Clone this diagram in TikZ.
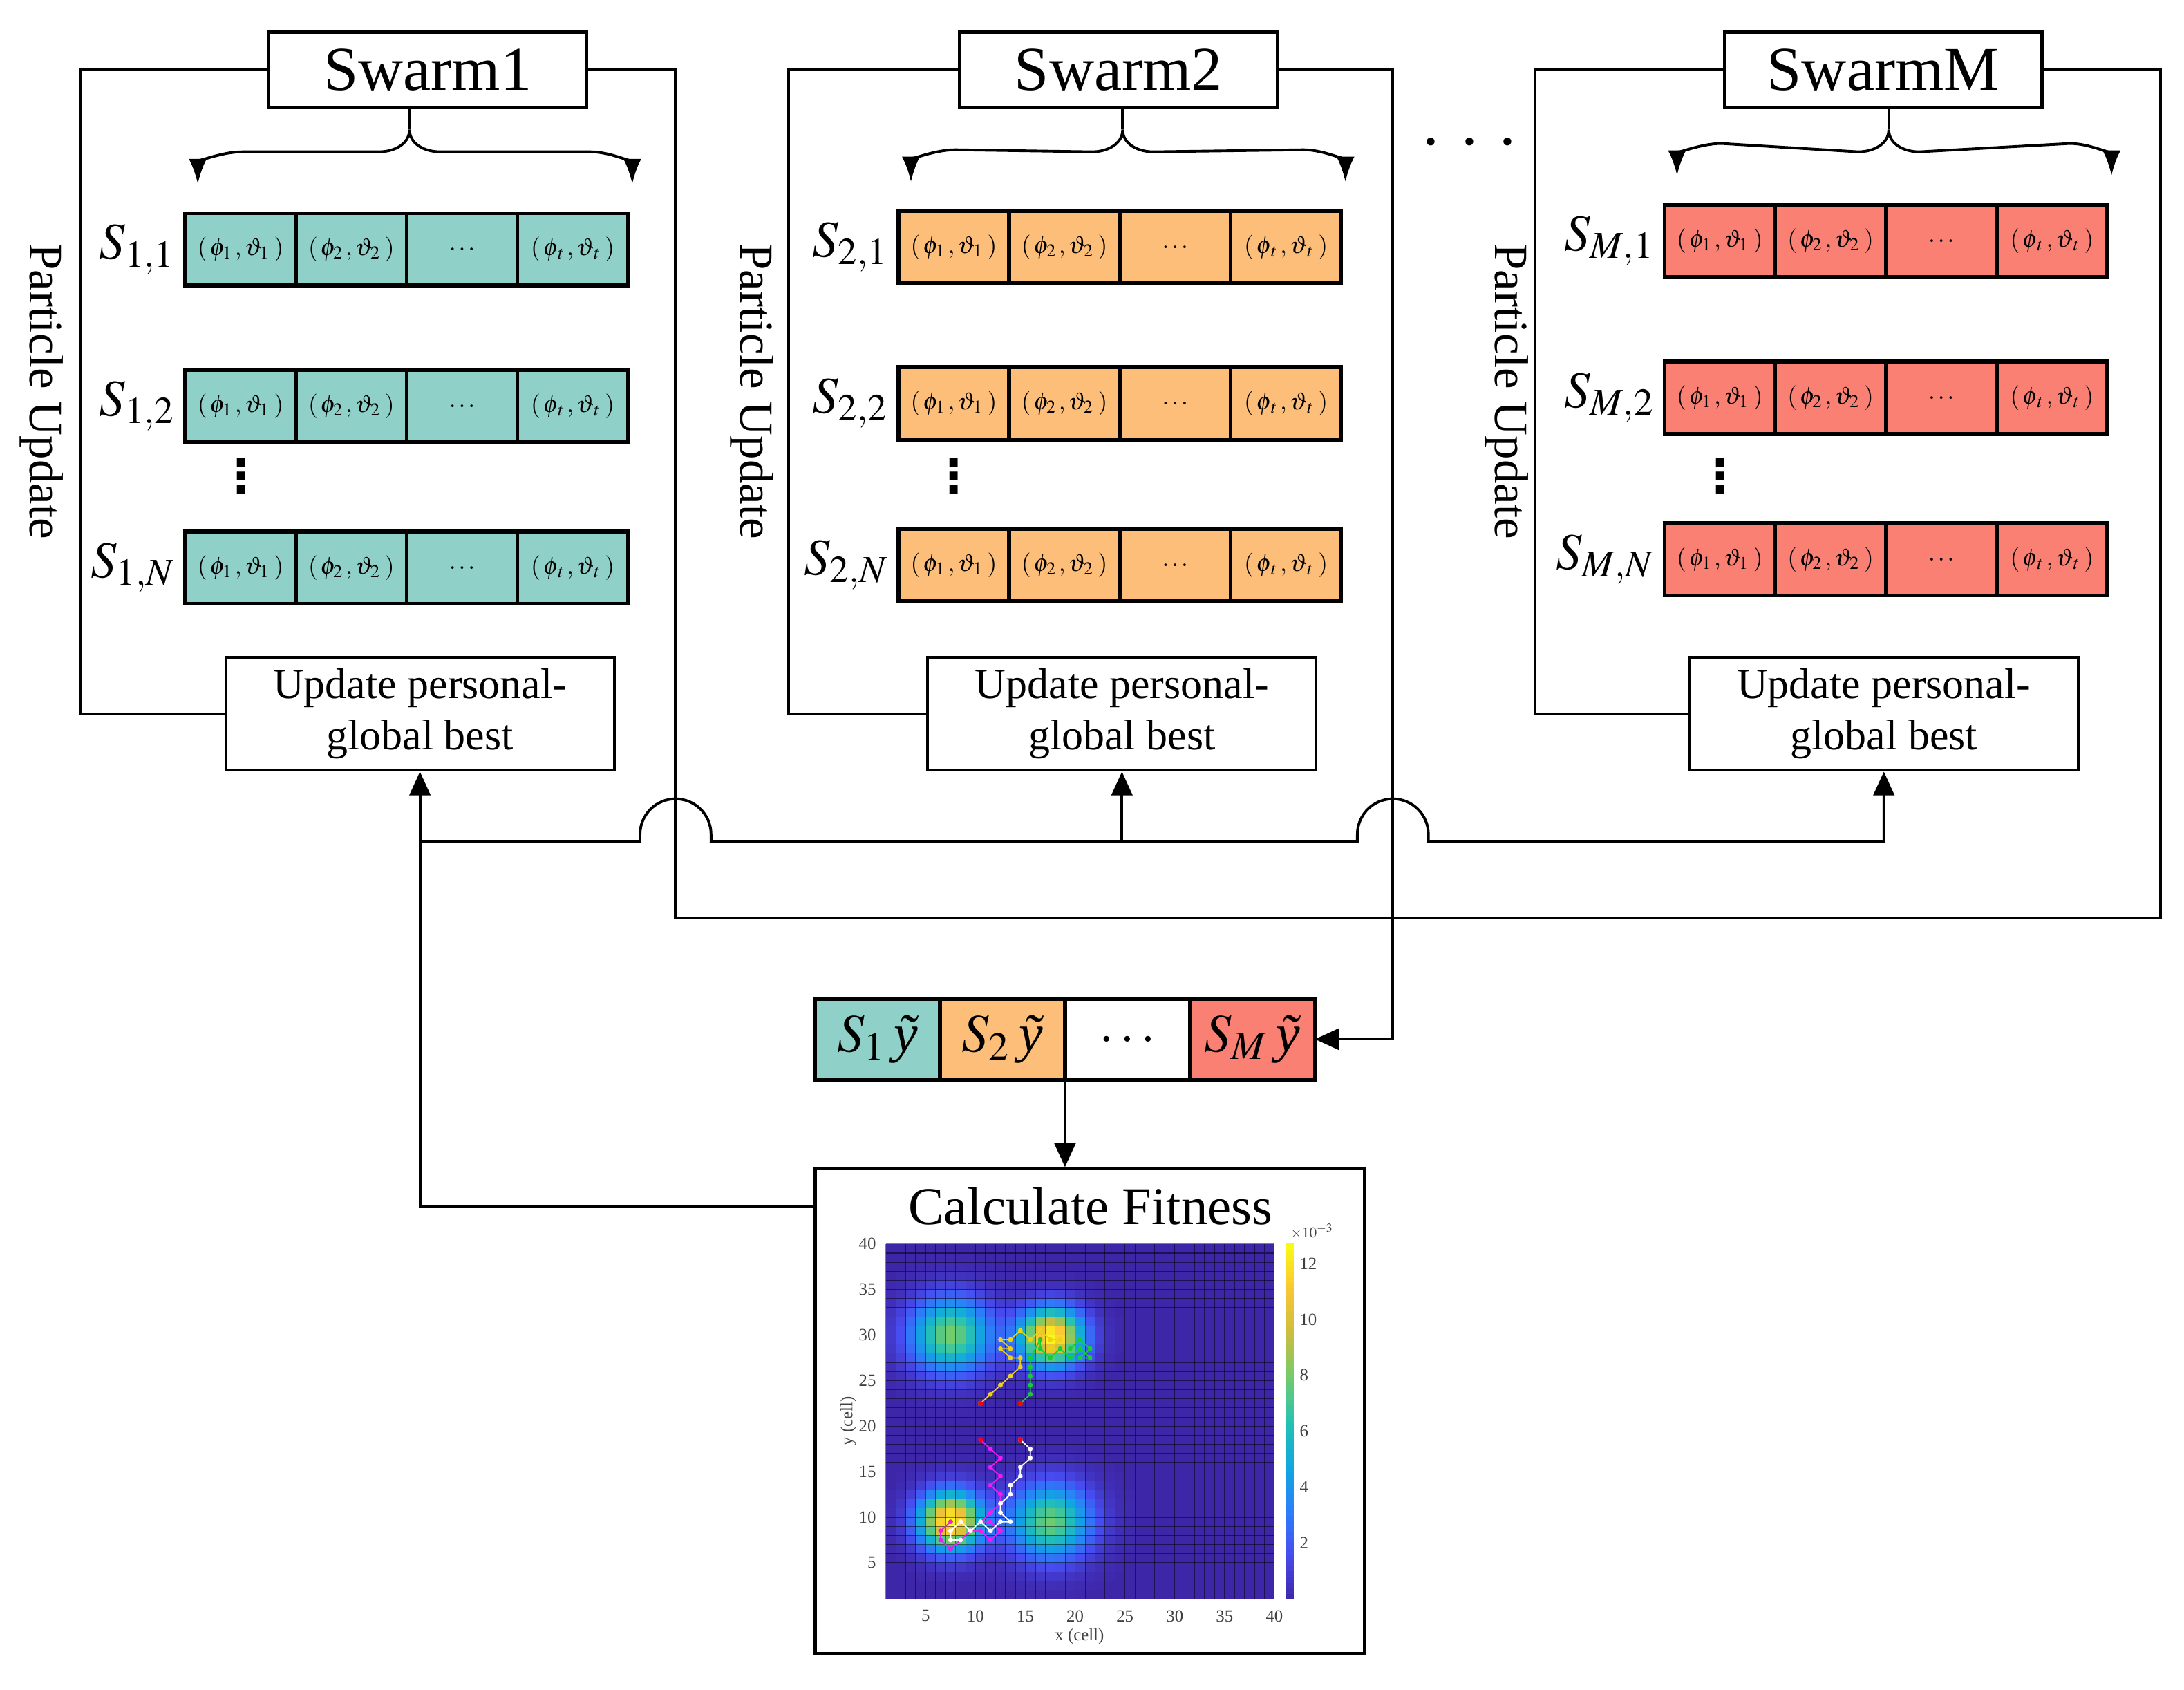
\documentclass[tikz,border=0pt]{standalone}
\usepackage{mathptmx}
\usepackage{fontspec}
\setmainfont{Liberation Serif}
\newfontfamily\symfont{DejaVu Sans}
\usetikzlibrary{arrows.meta,positioning,calc}

\definecolor{swarmteal}{RGB}{143,208,200}
\definecolor{swarmorange}{RGB}{253,190,122}
\definecolor{swarmred}{RGB}{249,128,114}
% parula
\definecolor{par0}{rgb}{0.243,0.150,0.660}
\definecolor{par1}{rgb}{0.280,0.300,0.940}
\definecolor{par2}{rgb}{0.170,0.500,0.980}
\definecolor{par3}{rgb}{0.060,0.660,0.870}
\definecolor{par4}{rgb}{0.150,0.760,0.700}
\definecolor{par5}{rgb}{0.450,0.800,0.420}
\definecolor{par6}{rgb}{0.800,0.740,0.250}
\definecolor{par7}{rgb}{0.985,0.780,0.200}
\definecolor{par8}{rgb}{0.976,0.984,0.081}
\definecolor{trajY}{rgb}{0.93,0.82,0.10}
\definecolor{trajG}{rgb}{0.10,0.80,0.20}
\definecolor{trajP}{rgb}{0.95,0.10,0.95}

\newcommand{\swarmfont}{\fontsize{25.5}{30}\selectfont}
\newcommand{\updfont}{\fontsize{17.5}{21}\selectfont}
\newcommand{\pufont}{\fontsize{19.5}{23}\selectfont}
\newcommand{\calcfont}{\fontsize{21.7}{26}\selectfont}
\newcommand{\pair}[1]{$\left(\mkern2mu\phi_{#1}\mkern1.5mu,\vartheta_{#1}\mkern3mu\right)$}
\newcommand{\gbest}[1]{$S_{#1}$\,{\itshape ỹ}}
\newcommand{\setparula}[2]{%
  \pgfmathsetmacro\tv{min(max(#1,0),0.9999)*8}%
  \pgfmathtruncatemacro\kk{\tv}%
  \pgfmathtruncatemacro\kn{\kk+1}%
  \pgfmathtruncatemacro\pp{100*(1-(\tv-\kk))}%
  \colorlet{#2}{par\kk!\pp!par\kn}}

\tikzset{
  wire/.style={line width=1.1pt},
  arr/.style={wire, -{Triangle[length=0.34cm,width=0.3cm]}},
  box/.style={draw, line width=1.3pt, fill=white, inner sep=0pt},
  pcell/.style={draw, line width=1.6pt, minimum width=1.59cm, minimum height=1.04cm,
    inner sep=0pt, outer sep=0pt, font=\fontsize{10}{12}\selectfont},
  gcell/.style={draw, line width=1.6pt, minimum width=1.795cm, minimum height=1.16cm,
    inner sep=0pt, outer sep=0pt, font=\fontsize{22}{26}\selectfont},
  slabel/.style={inner sep=0pt, font=\fontsize{21}{25}\selectfont},
  ticklbl/.style={inner sep=1pt, text=black!75, font=\fontsize{7}{8}\selectfont},
  gridln/.style={line width=0.3pt, black, opacity=0.5},
  traj/.style={line width=0.5pt, mark=*, mark size=0.7pt}
}

\begin{document}
\begin{tikzpicture}[x=0.02cm, y=0.02cm]
    \useasboundingbox (0,0) rectangle (1568,-1213);

    % Enjambres
    \foreach \g/\sx/\rl/\ya/\yb/\yc/\ux/\fl/\pu/\col in {1/307/133/179/291.5/407.5/301.5/58/30/swarmteal,
        2/803/645/177.5/289.5/405.5/805.5/566/540/swarmorange,
        M/1352/1195/173/285.5/401.5/1352.5/1102/1082/swarmred}{
        \node[box, minimum width=4.56cm, minimum height=1.08cm, font=\swarmfont] (swarm\g) at (\sx,-50) {Swarm\g};
        \node[box, line width=1.1pt, minimum width=5.58cm, minimum height=1.62cm, align=center, font=\updfont] (upd\g) at (\ux,-512.5) {Update personal-\\global best};
        \node[rotate=-90, font=\pufont] (pu\g) at (\pu,-281) {Particle Update};
        \draw[wire] (swarm\g.west) -| (\fl,-300) |- (upd\g.west);

        % Particulas
        \foreach \r/\y in {1/\ya, 2/\yb, N/\yc}{
            \node[pcell, fill=\col] (c\g\r1) at (\rl+39.75,-\y) {\pair{1}};
            \node[pcell, fill=\col, right=0pt of c\g\r1] (c\g\r2) {\pair{2}};
            \node[pcell, fill=\col, right=0pt of c\g\r2] (c\g\r3) {$\ldots$};
            \node[pcell, fill=\col, right=0pt of c\g\r3] (c\g\r4) {\pair{\mkern2mu t}};
            \node[slabel, left=4pt of c\g\r1] (s\g\r) {$S_{\g,\r}$};
        }
        \node[font=\fontsize{19}{22}\symfont\bfseries] (vd\g) at (\rl+40,-342) {⋮};

        % Llave
        \coordinate (bs\g) at (\rl+161,-93);
        \draw[wire] (swarm\g.south -| bs\g) -- (bs\g);
        \draw[wire, {Latex[length=0.36cm,width=0.26cm]}-{Latex[length=0.36cm,width=0.26cm]}]
            ($(c\g11.north west)+(9,21)$) to[out=90,in=180] ++(32,23)
            -- ($(bs\g)+(-22,-16)$) to[out=0,in=-90] (bs\g)
            to[out=-90,in=180] ++(22,-16)
            -- ($(c\g14.north east)+(-27,44)$) to[out=0,in=90] ++(30,-23);
    }

    \node[anchor=base, font=\fontsize{27}{30}\selectfont] (gdots) at (1055,-104) {. . .};

    % Mejores globales
    \node[gcell, fill=swarmteal] (g1) at (630,-746) {\gbest{1}};
    \node[gcell, fill=swarmorange, right=0pt of g1] (g2) {\gbest{2}};
    \node[gcell, fill=white, right=0pt of g2] (g3) {$\ldots$};
    \node[gcell, fill=swarmred, right=0pt of g3] (gM) {\gbest{M}};

    % Conexiones
    \coordinate (fr1) at (485,-50);
    \coordinate (fr2) at (1000,-50);
    \draw[wire] (swarm1.east) -- (fr1) |- (1551,-659) |- (swarmM.east);
    \draw[arr] (swarm2.east) -- (fr2) |- (gM.east);

    \node[box, line width=1.4pt, minimum width=7.9cm, minimum height=6.96cm] (calc) at (782.5,-1013) {};
    \node[font=\calcfont] (calctitle) at (783,-866) {Calculate Fitness};
    \draw[arr] (g2.south east) -- (g2.south east |- calc.north);
    \draw[arr] (calc.west |- calctitle) -| (upd1.south);
    \path (upd1.south) ++(0,-50) coordinate (bus);
    \draw[arr] (bus) -- ($(fr1 |- bus)+(-25.5,0)$) -- ++(0,5)
        arc[start angle=180, end angle=0, radius=0.51cm] -- ++(0,-5)
        -- ($(fr2 |- bus)+(-25.5,0)$) -- ++(0,5)
        arc[start angle=180, end angle=0, radius=0.51cm] -- ++(0,-5)
        -| (updM.south);
    \draw[arr] (upd2.south |- bus) -- (upd2.south);

    % Mapa de calor
    \begin{scope}[shift={(628.846,-1154.538)}, x=0.14308cm, y=0.13077cm]
        \fill[par0] (1,1) rectangle (40,40);
        \foreach \i in {1,...,27}{
            \foreach \j in {1,...,39}{
                \pgfmathsetmacro\cu{\i+0.5}
                \pgfmathsetmacro\cv{\j+0.5}
                \pgfmathsetmacro\hv{8.0*exp(-min(((\cu-7.5)*(\cu-7.5)+(\cv-30)*(\cv-30))/15.7,12))
                    +12.7*exp(-min(((\cu-17.6)*(\cu-17.6)+(\cv-29.8)*(\cv-29.8))/9.5,12))
                    +12.7*exp(-min(((\cu-7.5)*(\cu-7.5)+(\cv-9.6)*(\cv-9.6))/9.5,12))
                    +7.8*exp(-min(((\cu-17.5)*(\cu-17.5)+(\cv-9.5)*(\cv-9.5))/15.7,12))}
                \ifdim\hv pt>0.06pt
                    \setparula{\hv/12.7}{cellc}
                    \fill[cellc] (\i,\j) rectangle ++(1,1);
                \fi
            }
        }
        \foreach \k in {1,...,40}{
            \draw[gridln] (\k,1) -- (\k,40) (1,\k) -- (40,\k);
        }

        % Trayectorias
        \draw[traj, color=trajY] plot coordinates {(10.5,22.5) (11.5,23.5) (12.5,24.5) (13.5,25.5) (14.5,26.5) (14.5,27.5) (13.5,27.5) (12.5,28.5) (13.5,28.5) (12.5,29.5) (13.5,29.5) (14.5,30.5) (15.5,29.5) (16.5,30.5) (17.5,29.5) (18.5,29.5) (17.5,28.5) (18.5,28.5)};
        \draw[traj, color=trajG] plot coordinates {(14.5,22.5) (15.5,23.5) (15.5,24.5) (15.5,25.5) (15.5,26.5) (15.5,27.5) (16.5,29.5) (16.5,28.5) (17.5,27.5) (18.5,28.5) (19.5,27.5) (20.5,28.5) (21.5,27.5) (20.5,27.5) (21.5,28.5) (20.5,29.5) (19.5,28.5)};
        \draw[traj, color=trajP] plot coordinates {(10.5,18.5) (11.5,17.5) (12.5,16.5) (11.5,15.5) (12.5,14.5) (11.5,13.5) (12.5,12.5) (12.5,11.5) (11.5,10.5) (10.5,9.5) (11.5,9.5) (12.5,8.5) (11.5,7.5) (10.5,8.5) (9.5,8.5) (8.5,7.5) (7.5,6.5) (6.5,7.5) (6.5,8.5) (7.5,9.5)};
        \draw[traj, color=white] plot coordinates {(14.5,18.5) (15.5,17.5) (15.5,16.5) (14.5,15.5) (14.5,14.5) (13.5,13.5) (13.5,12.5) (12.5,11.5) (12.5,10.5) (13.5,9.5) (12.5,9.5) (11.5,8.5) (10.5,9.5) (9.5,8.5) (8.5,9.5) (7.5,8.5) (7.5,7.5) (8.5,7.5)};
        \foreach \p in {(10.5,22.5), (14.5,22.5), (10.5,18.5), (14.5,18.5)}{
            \fill[red] \p circle[radius=1pt];
        }

        % Ejes
        \foreach \k in {5,10,...,40}{
            \node[ticklbl] (xt\k) at (\k,-0.85) {\k};
            \node[ticklbl, anchor=east] (yt\k) at (0.3,\k) {\k};
        }
    \end{scope}
    \node[ticklbl] (xlab) at (775,-1175) {x (cell)};
    \node[ticklbl, rotate=90] (ylab) at (609,-1020) {y (cell)};

    % Barra de color
    \foreach \k in {0,...,63}{
        \setparula{(\k+0.5)/64}{barc}
        \fill[barc] (923,-1148+\k*3.984375) rectangle (929,-1148+\k*3.984375+4.1);
    }
    \foreach \n in {2,4,...,12}{
        \node[ticklbl, anchor=west] (cb\n) at (931,-1148+\n*20.08) {\n};
    }
    \node[ticklbl, font=\fontsize{6}{7}\selectfont] (cbexp) at (942,-884) {$\times10^{-3}$};
\end{tikzpicture}
\end{document}
